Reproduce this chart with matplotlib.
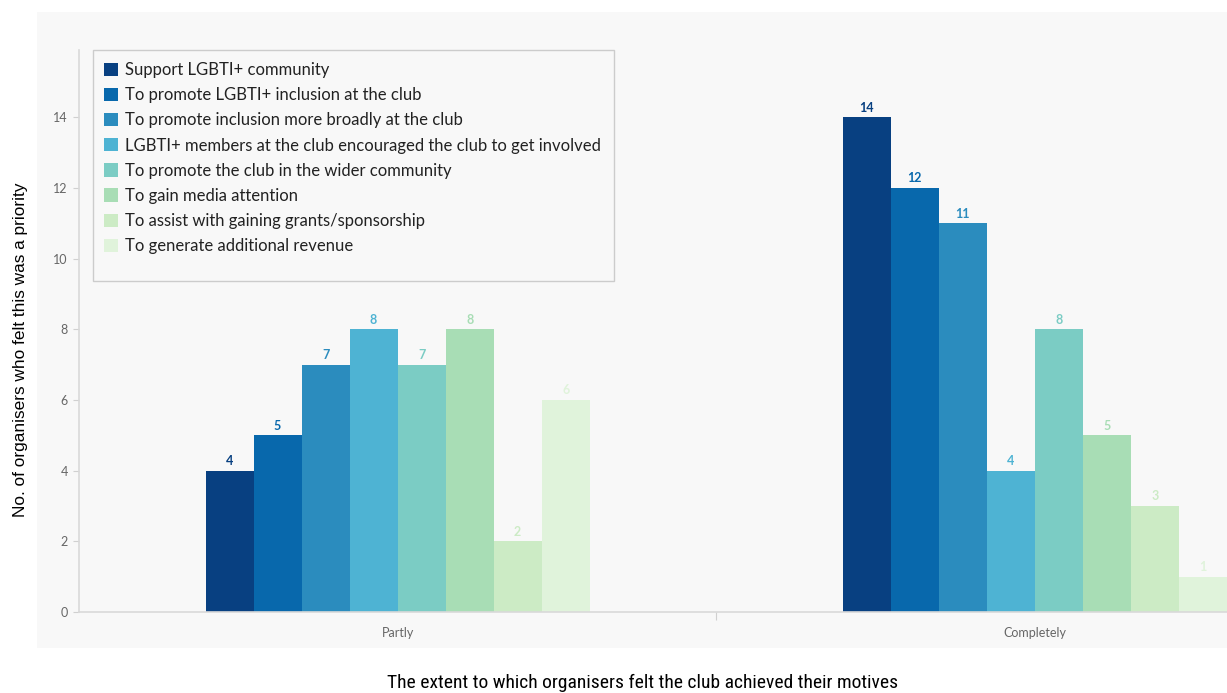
import matplotlib
matplotlib.use("Agg")
import matplotlib.pyplot as plt
from matplotlib.patches import Rectangle
from matplotlib import font_manager
import numpy as np

categories = ["Partly", "Completely"]
series_names = [
    "Support LGBTI+ community",
    "To promote LGBTI+ inclusion at the club",
    "To promote inclusion more broadly at the club",
    "LGBTI+ members at the club encouraged the club to get involved",
    "To promote the club in the wider community",
    "To gain media attention",
    "To assist with gaining grants/sponsorship",
    "To generate additional revenue",
]
partly = [4, 5, 7, 8, 7, 8, 2, 6]
completely = [14, 12, 11, 4, 8, 5, 3, 1]
colors = ["#084081", "#0868ac", "#2b8cbe", "#4eb3d3",
          "#7bccc4", "#a8ddb5", "#ccebc5", "#e0f3db"]
y_ticks = [0, 2, 4, 6, 8, 10, 12, 14]

names = {f.name for f in font_manager.fontManager.ttflist}
narrow = None
for cand in ["Liberation Sans Narrow", "Arial Narrow", "Roboto Condensed",
             "DejaVu Sans Condensed", "Open Sans Condensed"]:
    if cand in names:
        narrow = cand
        break

W, H = 1227, 693
fig = plt.figure(figsize=(W / 100, H / 100), dpi=100)
fig.patch.set_facecolor("white")
panel = "#f8f8f8"
fig.patches.append(Rectangle((37 / W, 1 - 648 / H), 1.0, (648 - 12) / H,
                             transform=fig.transFigure, facecolor=panel,
                             edgecolor="none", zorder=-5))

ax = fig.add_axes([79 / W, 1 - 612 / H, (1353.5 - 79) / W, (612 - 50) / H])
ax.set_zorder(1)
ax.set_facecolor(panel)

n = len(series_names)
bw = 48 / 637
x = np.arange(len(categories))
handles = []
for i in range(n):
    vals = [partly[i], completely[i]]
    pos = x + (i - (n - 1) / 2) * bw
    b = ax.bar(pos, vals, width=bw, color=colors[i], zorder=2,
               label=series_names[i], linewidth=0)
    handles.append(b)
    for p, v in zip(pos, vals):
        ax.text(p, v + 0.1, str(v), ha="center", va="bottom",
                color=colors[i], fontsize=9, fontweight="bold",
                family="Lato", zorder=3)

ax.set_xlim(-0.5, 1.5)
ax.set_ylim(0, 15.9)
ax.set_yticks(y_ticks)
ax.tick_params(axis="y", length=4, color="#d0d0d0", labelcolor="#666666",
               labelsize=9, pad=4)
for lab in ax.get_yticklabels():
    lab.set_family("Lato")

ax.set_xticks([0.5])
ax.set_xticklabels([""])
ax.tick_params(axis="x", which="major", length=6, color="#d0d0d0")
ax.set_xticks(x, minor=True)
ax.set_xticklabels(categories, minor=True, family="Lato", fontsize=9,
                   color="#666666")
ax.tick_params(axis="x", which="minor", length=0, pad=11)

for s in ["top", "right"]:
    ax.spines[s].set_visible(False)
for s in ["left", "bottom"]:
    ax.spines[s].set_color("#d9d9d9")
    ax.spines[s].set_linewidth(1.2)

# legend frame drawn on top of the axes
frame = Rectangle((93 / W, 1 - 281 / H), (614 - 93) / W, (281 - 50) / H,
                  transform=fig.transFigure, facecolor=panel,
                  edgecolor="#cccccc", linewidth=1, zorder=5)
fig.patches.append(frame)
leg = fig.legend(handles=handles, labels=series_names, loc="upper left",
                 bbox_to_anchor=(104 / W, 1 - 62 / H), bbox_transform=fig.transFigure,
                 frameon=False, borderaxespad=0, borderpad=0,
                 prop={"family": "Lato", "size": 12},
                 handlelength=0.85, handleheight=0.85, handletextpad=0.4,
                 labelspacing=0.55)
leg.set_zorder(6)
for t in leg.get_texts():
    t.set_color("#222222")

fig.text(21 / W, 1 - 350 / H, "No. of organisers who felt this was a priority",
         rotation=90, ha="center", va="center", fontsize=12.4, color="black",
         family="Liberation Sans")
xlabel = "The extent to which organisers felt the club achieved their motives"
if narrow:
    fig.text(643 / W, 1 - 683 / H, xlabel, ha="center", va="center",
             fontsize=14, color="black", family=narrow)
else:
    fig.text(643 / W, 1 - 683 / H, xlabel, ha="center", va="center",
             fontsize=12, color="black", family="Liberation Sans")

fig.savefig("out.png", dpi=100, facecolor="white")
